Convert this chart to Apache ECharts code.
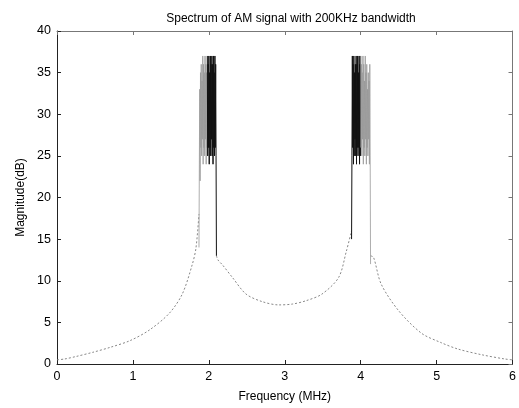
<!DOCTYPE html>
<html>
<head>
<meta charset="utf-8">
<title>Spectrum of AM signal</title>
<script src="https://cdn.jsdelivr.net/npm/echarts@6/dist/echarts.min.js"></script>
<style>
  html, body { margin: 0; padding: 0; background: #fff; }
  #chart { width: 519px; height: 408px; }
</style>
</head>
<body>
<div id="chart"></div>
<script>
// smooth part of the spectrum ('-' = gap where the peaks are)
const curveFreq = [0, 0.1, 0.25, 0.47, 0.7, 0.96, 1.22, 1.48, 1.65, 1.78,
  1.83, 1.87, 1.95, 2.10, 2.12, 2.18, 2.31, 2.49, 2.70, 2.92,
  3.10, 3.28, 3.49, 3.71, 3.81, 3.88, 3.95, 4.13, 4.17, 4.27,
  4.50, 4.80, 5.05, 5.28, 5.60, 5.90, 6.00]
const curveMag = [0.5, 0.6, 0.9, 1.4, 2.0, 2.8, 4.1, 6.1, 8.4, 11.9,
  13.9, 18, '-', 13, 12.5, 11.9, 10.4, 8.4, 7.5, 7.1,
  7.2, 7.6, 8.4, 10.4, 13.5, 16, '-', 13, 12.8, 9.6,
  6.4, 3.7, 2.6, 1.8, 1.1, 0.6, 0.5]

// peak around 2 MHz
const peak2LightFreq = [1.870, 1.875, 1.880, 1.885, 1.890, 1.895, 1.900, 1.905, 1.910, 1.915, 1.920, 1.925,
  1.930, 1.935, 1.940, 1.945, 1.950, 1.955, 1.960, 1.965, 1.970, 1.975, 1.980]
const peak2LightMag = [14, 24, 33, 22, 35, 26, 36, 25, 34, 27, 37, 24,
  36, 26, 35, 25, 37, 27, 36, 24, 35, 26, 37]
const peak2DarkFreq = [1.980, 1.985, 1.990, 1.995, 2.000, 2.005, 2.010, 2.015, 2.020, 2.025, 2.030, 2.035,
  2.040, 2.045, 2.050, 2.055, 2.060, 2.065, 2.070, 2.075, 2.080, 2.085, 2.090, 2.095, 2.100]
const peak2DarkMag = [37, 25, 36, 26, 37, 24, 35, 26, 37, 25, 36, 27,
  37, 25, 36, 24, 37, 26, 35, 25, 37, 26, 36, 25, 13]

// peak around 4 MHz
const peak4DarkFreq = [3.880, 3.885, 3.890, 3.895, 3.900, 3.905, 3.910, 3.915, 3.920, 3.925, 3.930, 3.935,
  3.940, 3.945, 3.950, 3.955, 3.960, 3.965, 3.970, 3.975, 3.980, 3.985, 3.990, 3.995, 4.000]
const peak4DarkMag = [15, 25, 37, 26, 36, 24, 37, 25, 35, 27, 36, 25,
  37, 24, 36, 26, 37, 25, 35, 26, 37, 24, 36, 25, 37]
const peak4LightFreq = [4.000, 4.005, 4.010, 4.015, 4.020, 4.025, 4.030, 4.035, 4.040, 4.045, 4.050, 4.055,
  4.060, 4.065, 4.070, 4.075, 4.080, 4.085, 4.090, 4.095, 4.100, 4.105, 4.110, 4.115, 4.120, 4.125, 4.130]
const peak4LightMag = [37, 26, 36, 25, 35, 27, 37, 24, 36, 26, 34, 25,
  37, 27, 35, 24, 36, 26, 33, 25, 35, 27, 34, 24, 36, 25, 12]

const xMin = 0, xMax = 6, xStep = 1
const yMin = 0, yMax = 40, yStep = 5

function pairs(xs, ys) {
  return xs.map((x, i) => [x, ys[i]])
}

const font = 'Liberation Sans, Arial, sans-serif'
const chart = echarts.init(document.getElementById('chart'))

// matlab style box: ticks inside on all four sides
const boxAxis = (show, color) => ({
  axisLine: { show: true, onZero: false, lineStyle: { color: color, width: 1 } },
  axisTick: { show: true, inside: true, length: 4, lineStyle: { color: color } },
  axisLabel: { show: show, color: '#000', fontFamily: font, fontSize: 12.5, margin: 6 },
  splitLine: { show: false }
})

chart.setOption({
  animation: false,
  backgroundColor: '#fff',
  title: {
    text: 'Spectrum of AM signal with 200KHz bandwidth',
    left: 286,
    top: 8,
    textAlign: 'center',
    textStyle: { fontFamily: font, fontSize: 12, fontWeight: 'normal', color: '#000' }
  },
  grid: { left: 57, right: 4, top: 31, bottom: 36 },
  xAxis: [
    Object.assign({
      type: 'value', min: xMin, max: xMax, interval: xStep, position: 'bottom',
      name: 'Frequency (MHz)', nameLocation: 'middle', nameGap: 27,
      nameTextStyle: { fontFamily: font, fontSize: 12, color: '#000' }
    }, boxAxis(true, '#222')),
    Object.assign({
      type: 'value', min: xMin, max: xMax, interval: xStep, position: 'top'
    }, boxAxis(false, '#777'))
  ],
  yAxis: [
    Object.assign({
      type: 'value', min: yMin, max: yMax, interval: yStep, position: 'left',
      name: 'Magnitude(dB)', nameLocation: 'middle', nameGap: 30,
      nameTextStyle: { fontFamily: font, fontSize: 12, color: '#000' }
    }, boxAxis(true, '#222')),
    Object.assign({
      type: 'value', min: yMin, max: yMax, interval: yStep, position: 'right'
    }, boxAxis(false, '#777'))
  ],
  series: [
    {
      type: 'line',
      data: pairs(curveFreq, curveMag),
      showSymbol: false,
      smooth: 0.3,
      connectNulls: false,
      lineStyle: { color: '#888', width: 1, type: [2, 2] }
    },
    {
      type: 'line',
      data: pairs(peak2LightFreq, peak2LightMag),
      showSymbol: false,
      lineStyle: { color: '#999', width: 0.8 }
    },
    {
      type: 'line',
      data: pairs(peak2DarkFreq, peak2DarkMag),
      showSymbol: false,
      lineStyle: { color: '#111', width: 1 }
    },
    {
      type: 'line',
      data: pairs(peak4DarkFreq, peak4DarkMag),
      showSymbol: false,
      lineStyle: { color: '#111', width: 1 }
    },
    {
      type: 'line',
      data: pairs(peak4LightFreq, peak4LightMag),
      showSymbol: false,
      lineStyle: { color: '#999', width: 0.8 }
    }
  ]
})
</script>
</body>
</html>
